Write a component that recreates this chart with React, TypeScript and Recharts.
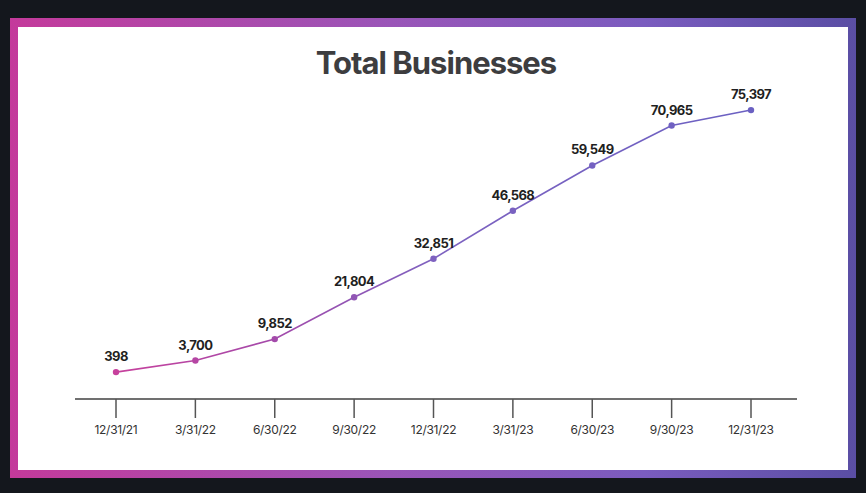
import { LineChart, Line, XAxis, YAxis, LabelList } from "recharts";

const quarters = [
  "12/31/21",
  "3/31/22",
  "6/30/22",
  "9/30/22",
  "12/31/22",
  "3/31/23",
  "6/30/23",
  "9/30/23",
  "12/31/23",
];
const businesses = [398, 3700, 9852, 21804, 32851, 46568, 59549, 70965, 75397];

const data = quarters.map((q, i) => ({ q, total: businesses[i] }));

const fmt = (v: number) => v.toLocaleString("en-US");

export default function App() {
  return (
    <div
      style={{
        position: "relative",
        width: 866,
        height: 493,
        background: "#14171d",
        overflow: "hidden",
      }}
    >
      <style>{`body{margin:0}`}</style>
      {/* gradient frame */}
      <div
        style={{
          position: "absolute",
          left: 10,
          top: 18,
          width: 846,
          height: 460,
          background:
            "linear-gradient(90deg, #c43a9b 0%, #9a55b8 45%, #7a5cbf 75%, #5a4ea4 100%)",
        }}
      />
      <div
        style={{
          position: "absolute",
          left: 18,
          top: 27,
          width: 830,
          height: 443,
          background: "#ffffff",
        }}
      />
      <div
        style={{
          position: "absolute",
          left: 0,
          top: 45,
          width: 872,
          textAlign: "center",
          fontFamily: "Inter, 'Noto Sans', sans-serif",
          fontWeight: 700,
          fontSize: 31,
          letterSpacing: -1,
          color: "#3d3d3f",
          lineHeight: "36px",
        }}
      >
        Total Businesses
      </div>
      <div style={{ position: "absolute", left: 0, top: 0 }}>
        <LineChart
          width={866}
          height={493}
          data={data}
          margin={{ top: 94, right: 69, bottom: 54, left: 75 }}
        >
          <defs>
            <linearGradient
              id="lineGrad"
              gradientUnits="userSpaceOnUse"
              x1={110}
              y1={0}
              x2={760}
              y2={0}
            >
              <stop offset="0%" stopColor="#c8409c" />
              <stop offset="25%" stopColor="#a44aaa" />
              <stop offset="50%" stopColor="#7e62c0" />
              <stop offset="100%" stopColor="#6a60c2" />
            </linearGradient>
          </defs>
          <XAxis
            dataKey="q"
            padding={{ left: 41, right: 46 }}
            axisLine={{ stroke: "#707070", strokeWidth: 2 }}
            tickLine={{ stroke: "#555", strokeWidth: 1.5 }}
            tickSize={19}
            tickMargin={7}
            interval={0}
            height={40}
            tick={{
              fill: "#333",
              fontSize: 12,
              fontFamily: "Inter, 'Noto Sans', sans-serif",
              letterSpacing: -0.3,
            }}
          />
          <YAxis hide domain={[-7300, 80000]} />
          <Line
            type="linear"
            dataKey="total"
            stroke="url(#lineGrad)"
            strokeWidth={1.6}
            dot={{ r: 3.2, fill: "url(#lineGrad)", stroke: "none" }}
            activeDot={false}
            isAnimationActive={false}
          >
            <LabelList
              dataKey="total"
              position="top"
              offset={11}
              formatter={(v: any) => fmt(Number(v))}
              style={{
                fill: "#1f1f22",
                fontSize: 13,
                fontWeight: 700,
                fontFamily: "Inter, 'Noto Sans', sans-serif",
                letterSpacing: -0.6,
              }}
            />
          </Line>
        </LineChart>
      </div>
    </div>
  );
}
